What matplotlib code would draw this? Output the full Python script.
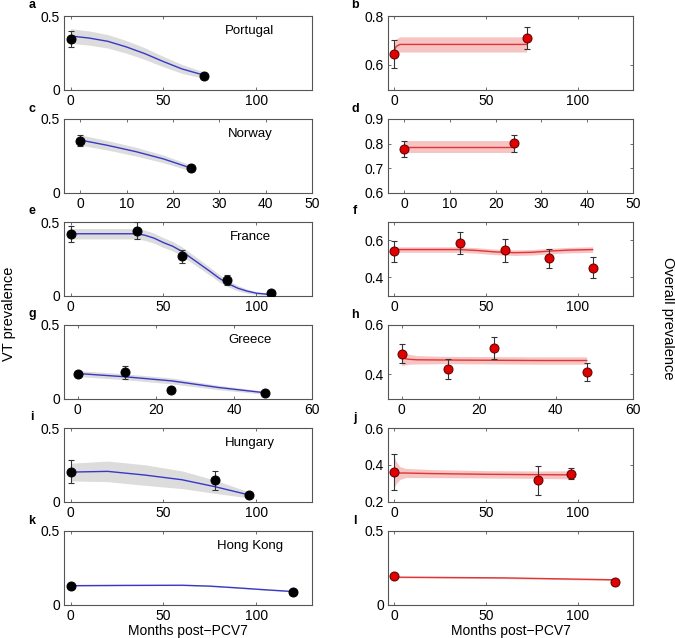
import matplotlib
matplotlib.use("Agg")
import matplotlib.pyplot as plt
import numpy as np

plt.rcParams['font.family'] = ['Liberation Sans', 'DejaVu Sans']

# ---- data ----
countries = ['Portugal', 'Norway', 'France', 'Greece', 'Hungary', 'Hong Kong']
letters_left = ['a', 'c', 'e', 'g', 'i', 'k']
letters_right = ['b', 'd', 'f', 'h', 'j', 'l']

# Portugal
pt_x = [0, 72]
pt_vt = [0.342, 0.095]
pt_vt_err = [0.054, 0.012]
pt_fit_x = [0, 10, 20, 30, 40, 50, 60, 72]
pt_fit_vt = [0.364, 0.35, 0.328, 0.29, 0.244, 0.19, 0.14, 0.097]
pt_fit_vt_sd = [0.05, 0.048, 0.046, 0.043, 0.04, 0.035, 0.03, 0.022]
pt_all = [0.644, 0.712]
pt_all_err = [0.057, 0.045]
pt_fit_all_x = [0, 1, 3, 72]
pt_fit_all = [0.66, 0.676, 0.684, 0.684]
pt_fit_all_sd = [0.03, 0.031, 0.031, 0.031]

# Norway
no_x = [0, 24]
no_vt = [0.353, 0.165]
no_vt_err = [0.04, 0.015]
no_fit_x = [0, 6, 12, 18, 24]
no_fit_vt = [0.357, 0.32, 0.278, 0.228, 0.165]
no_fit_vt_sd = [0.035, 0.032, 0.03, 0.026, 0.02]
no_all = [0.777, 0.801]
no_all_err = [0.033, 0.035]
no_fit_all_x = [0, 24]
no_fit_all = [0.787, 0.787]
no_fit_all_sd = [0.025, 0.025]

# France
fr_x = [0, 36, 60, 84, 108]
fr_vt = [0.418, 0.44, 0.266, 0.107, 0.02]
fr_vt_err = [0.055, 0.057, 0.045, 0.034, 0.006]
fr_fit_x = [0, 10, 20, 30, 36, 40, 45, 50, 55, 60, 65, 70, 75, 80, 85, 90, 95, 100, 108]
fr_fit_vt = [0.42, 0.42, 0.42, 0.42, 0.42, 0.41, 0.39, 0.36, 0.335, 0.30, 0.255,
             0.21, 0.165, 0.118, 0.08, 0.05, 0.03, 0.016, 0.006]
fr_fit_vt_sd = [0.035, 0.035, 0.035, 0.035, 0.035, 0.035, 0.034, 0.033, 0.032, 0.031, 0.03,
                0.029, 0.027, 0.025, 0.022, 0.018, 0.014, 0.01, 0.006]
fr_all = [0.541, 0.586, 0.546, 0.502, 0.452]
fr_all_err = [0.056, 0.058, 0.064, 0.053, 0.055]
fr_fit_all_x = [0, 35, 45, 55, 65, 75, 85, 95, 108]
fr_fit_all = [0.55, 0.55, 0.545, 0.537, 0.533, 0.535, 0.542, 0.547, 0.55]
fr_fit_all_sd = [0.015] * 9

# Greece
gr_x = [0, 12, 24, 48]
gr_vt = [0.17, 0.177, 0.059, 0.039]
gr_vt_err = [0.01, 0.042, 0.006, 0.006]
gr_fit_x = [0, 12, 24, 36, 48]
gr_fit_vt = [0.17, 0.148, 0.12, 0.075, 0.039]
gr_fit_vt_sd = [0.02, 0.02, 0.02, 0.015, 0.01]
gr_all = [0.482, 0.42, 0.507, 0.407]
gr_all_err = [0.039, 0.042, 0.044, 0.036]
gr_fit_all_x = [0, 1, 2, 4, 12, 24, 36, 48]
gr_fit_all = [0.47, 0.462, 0.46, 0.458, 0.457, 0.456, 0.455, 0.455]
gr_fit_all_sd = [0.035, 0.025, 0.02, 0.017, 0.015, 0.015, 0.015, 0.015]

# Hungary
hu_x = [0, 78, 96]
hu_vt = [0.202, 0.143, 0.045]
hu_vt_err = [0.077, 0.063, 0.008]
hu_fit_x = [0, 20, 40, 60, 78, 96]
hu_fit_vt = [0.2, 0.205, 0.18, 0.148, 0.10, 0.045]
hu_fit_vt_sd = [0.06, 0.07, 0.07, 0.06, 0.045, 0.02]
hu_all = [0.36, 0.315, 0.35]
hu_all_err = [0.096, 0.08, 0.03]
hu_fit_all_x = [0, 1, 3, 6, 20, 50, 78, 96]
hu_fit_all = [0.36, 0.357, 0.355, 0.355, 0.352, 0.348, 0.346, 0.345]
hu_fit_all_sd = [0.08, 0.06, 0.035, 0.025, 0.022, 0.02, 0.02, 0.022]

# Hong Kong (no error bars)
hk_x = [0, 120]
hk_vt = [0.127, 0.086]
hk_vt_err = None
hk_fit_x = [0, 30, 60, 75, 90, 105, 120]
hk_fit_vt = [0.128, 0.13, 0.131, 0.125, 0.113, 0.1, 0.088]
hk_fit_vt_sd = [0.003] * 7
hk_all = [0.192, 0.156]
hk_all_err = None
hk_fit_all_x = [0, 60, 120]
hk_fit_all = [0.186, 0.181, 0.168]
hk_fit_all_sd = [0.005, 0.005, 0.005]

vt_sets = [
    (pt_x, pt_vt, pt_vt_err, pt_fit_x, pt_fit_vt, pt_fit_vt_sd),
    (no_x, no_vt, no_vt_err, no_fit_x, no_fit_vt, no_fit_vt_sd),
    (fr_x, fr_vt, fr_vt_err, fr_fit_x, fr_fit_vt, fr_fit_vt_sd),
    (gr_x, gr_vt, gr_vt_err, gr_fit_x, gr_fit_vt, gr_fit_vt_sd),
    (hu_x, hu_vt, hu_vt_err, hu_fit_x, hu_fit_vt, hu_fit_vt_sd),
    (hk_x, hk_vt, hk_vt_err, hk_fit_x, hk_fit_vt, hk_fit_vt_sd),
]
all_sets = [
    (pt_x, pt_all, pt_all_err, pt_fit_all_x, pt_fit_all, pt_fit_all_sd),
    (no_x, no_all, no_all_err, no_fit_all_x, no_fit_all, no_fit_all_sd),
    (fr_x, fr_all, fr_all_err, fr_fit_all_x, fr_fit_all, fr_fit_all_sd),
    (gr_x, gr_all, gr_all_err, gr_fit_all_x, gr_fit_all, gr_fit_all_sd),
    (hu_x, hu_all, hu_all_err, hu_fit_all_x, hu_fit_all, hu_fit_all_sd),
    (hk_x, hk_all, hk_all_err, hk_fit_all_x, hk_fit_all, hk_fit_all_sd),
]

x_limits = [(-3.5, 130), (-3.5, 50), (-3.5, 130), (-3.5, 60), (-3.5, 130), (-3.5, 130)]
x_ticks = [[0, 50, 100], [0, 10, 20, 30, 40, 50], [0, 50, 100],
           [0, 20, 40, 60], [0, 50, 100], [0, 50, 100]]
left_ylim = (0, 0.5)
left_yticks = [0, 0.5]
right_ylims = [(0.5, 0.8), (0.6, 0.9), (0.3, 0.7), (0.3, 0.6), (0.2, 0.6), (0, 0.5)]
right_yticks = [[0.6, 0.8], [0.6, 0.7, 0.8, 0.9], [0.4, 0.6], [0.4, 0.6],
                [0.2, 0.4, 0.6], [0, 0.5]]


def tick_fmt(v):
    return '0' if v == 0 else ('%g' % v)


def draw_panel(ax, data, line_c, band_c, face_c, edge_c, ms):
    x, y, err, fx, fy, fsd = data
    fx = np.array(fx)
    fy = np.array(fy)
    fsd = np.array(fsd)
    ax.fill_between(fx, fy - fsd, fy + fsd, color=band_c, lw=0, zorder=1)
    ax.plot(fx, fy, color=line_c, lw=1.0, zorder=2)
    if err is not None:
        ax.errorbar(x, y, yerr=err, fmt='none', ecolor='#333333', elinewidth=0.8,
                    capsize=2, capthick=0.8, zorder=3)
    ax.plot(x, y, 'o', color=face_c, markeredgecolor=edge_c, markeredgewidth=0.7,
            markersize=ms, zorder=4)


fig = plt.figure(figsize=(6.75, 6.38), dpi=100)
W, H = 675.0, 638.0
row_tops = [16, 119, 222, 325, 428, 531]
ax_h = 73.5

for i in range(6):
    top = row_tops[i]
    bottom = 1 - (top + ax_h) / H
    axl = fig.add_axes([64 / W, bottom, 248 / W, ax_h / H])
    axr = fig.add_axes([388 / W, bottom, 245 / W, ax_h / H])

    draw_panel(axl, vt_sets[i], '#3838c8', '#dcdcdc', 'black', 'black', 6.5)
    draw_panel(axr, all_sets[i], '#e03535', '#f7c4c4', '#e00000', '#5a0000', 6.5)

    axl.set_ylim(*left_ylim)
    axl.set_yticks(left_yticks)
    axl.set_yticklabels([tick_fmt(v) for v in left_yticks])
    axr.set_ylim(*right_ylims[i])
    axr.set_yticks(right_yticks[i])
    axr.set_yticklabels([tick_fmt(v) for v in right_yticks[i]])

    for ax in (axl, axr):
        ax.set_xlim(*x_limits[i])
        ax.set_xticks(x_ticks[i])
        ax.tick_params(direction='in', length=2.5, width=0.6, labelsize=10,
                       top=True, right=True, color='#555555', pad=3)
        for s in ax.spines.values():
            s.set_color('#555555')
            s.set_linewidth(0.8)

    axl.text(0.75, 0.8, countries[i], transform=axl.transAxes, fontsize=9.5,
             ha='center', va='center')
    letter_y = 1 - (top - 10.5) / H
    fig.text(32 / W, letter_y, letters_left[i],
             fontsize=9, fontweight='bold', ha='center', va='center')
    fig.text(355 / W, letter_y, letters_right[i],
             fontsize=9, fontweight='bold', ha='center', va='center')

    if i == 5:
        axl.set_xlabel('Months post\u2212PCV7', fontsize=10, labelpad=1)
        axr.set_xlabel('Months post\u2212PCV7', fontsize=10, labelpad=1)

fig.text(9 / W, 1 - 314 / H, 'VT prevalence', rotation=90, fontsize=10.5,
         ha='center', va='center')
fig.text(668 / W, 1 - 318 / H, 'Overall prevalence', rotation=-90, fontsize=10.5,
         ha='center', va='center')

fig.savefig('out.png', dpi=100)
